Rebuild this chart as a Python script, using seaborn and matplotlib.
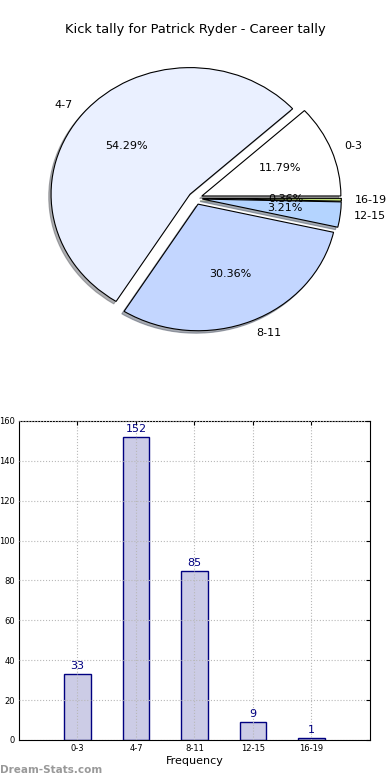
import numpy as np
import pandas as pd
import seaborn as sns
import matplotlib
matplotlib.use("Agg")
import matplotlib.pyplot as plt

# kick tally data
ranges = ["0-3", "4-7", "8-11", "12-15", "16-19"]
kicks = [33, 152, 85, 9, 1]
pie_colors = ["#ffffff", "#eaf0ff", "#c3d6ff", "#b4d4ff", "#c4e27a"]
title = "Kick tally for Patrick Ryder - Career tally"

sns.set_style("white")
plt.rcParams["font.family"] = ["DejaVu Sans"]
plt.rcParams["text.color"] = "black"
plt.rcParams["axes.labelcolor"] = "black"
plt.rcParams["xtick.color"] = "black"
plt.rcParams["ytick.color"] = "black"

fig = plt.figure(figsize=(3.9, 7.8), dpi=100)

##---------------- pie ----------------
ax1 = fig.add_axes([0.0555, 0.5429, 0.891, 0.4058])
ax1.pie(kicks, labels=ranges, colors=pie_colors, explode=[0.05] * len(kicks),
        autopct="%.2f%%", shadow={"ox": -0.012, "oy": -0.014, "shade": 0.6},
        wedgeprops={"edgecolor": "black", "linewidth": 0.8},
        textprops={"fontsize": 8, "color": "black"})
ax1.set_aspect("auto")
ax1.set_xlim(-1.25, 1.25)
ax1.set_ylim(-1.25, 1.25)
fig.text(0.5, 1 - 30 / 780, title, ha="center", va="center", fontsize=9.4)

##---------------- bars ----------------
df = pd.DataFrame({"range": ranges, "kicks": kicks})
ax2 = fig.add_axes([0.0487, 0.0513, 0.9, 0.409])
sns.barplot(data=df, x="range", y="kicks", order=ranges, width=0.45,
            color="#ccccE6", saturation=1, edgecolor="navy", linewidth=1, ax=ax2)
for i, v in enumerate(kicks):
    ax2.text(i, v + 1.5, str(v), ha="center", va="bottom", color="navy", fontsize=8)
ax2.set_xlim(-1, 5)
ax2.set_ylim(0, 160)
ax2.set_yticks(np.arange(0, 161, 20))
ax2.grid(True, linestyle=":", color="#b8b8b8", linewidth=0.8)
ax2.set_axisbelow(False)
ax2.tick_params(direction="in", labelsize=6, top=True, right=True, length=3, pad=3)
ax2.set_xlabel("Frequency", fontsize=8, labelpad=2)
ax2.set_ylabel("")
for s in ax2.spines.values():
    s.set_color("black")
    s.set_linewidth(0.8)

fig.text(0.0, 1 - 770 / 780, "Dream-Stats.com", ha="left", va="center",
         fontsize=7.5, color="#999999", fontweight="bold")

fig.savefig("out.png", dpi=100)
